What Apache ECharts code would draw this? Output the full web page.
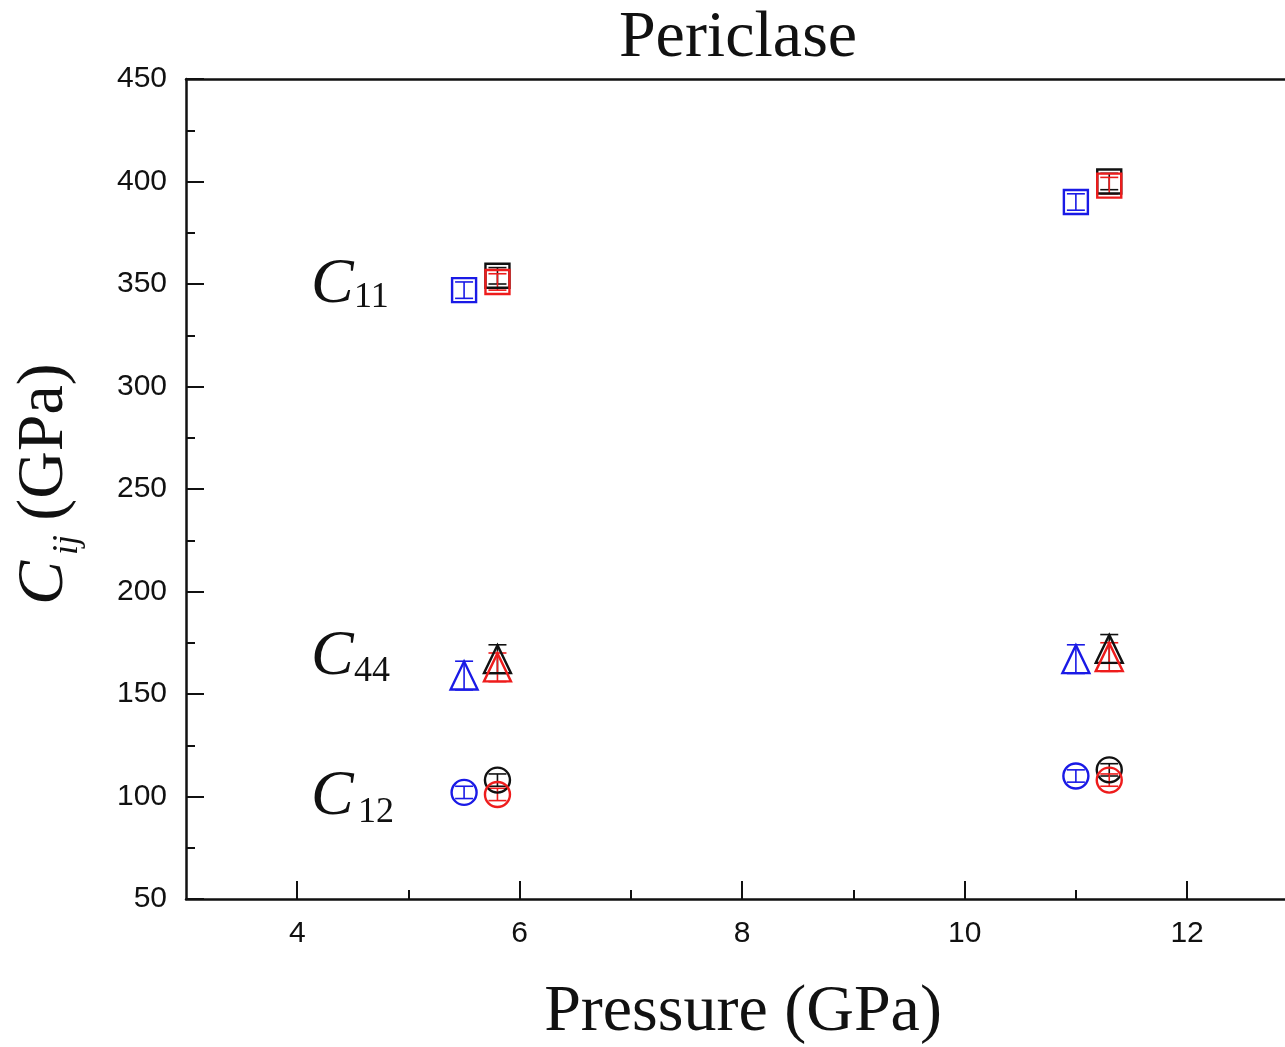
<!DOCTYPE html>
<html>
<head>
<meta charset="utf-8">
<script src="https://cdn.jsdelivr.net/npm/echarts@6/dist/echarts.min.js"></script>
<style>html,body{margin:0;padding:0;background:#fff}#c{width:1285px;height:1047px}</style>
</head>
<body>
<div id="c"></div>
<script>
// ---- data ----
var pressureBlue = [5.5, 11.0];
var pressureBR = [5.8, 11.3];
var c11Blue = [347, 390];
var c11Black = [354, 400];
var c11Red = [351, 398];
var c44Blue = [159, 167];
var c44Black = [167, 172];
var c44Red = [163, 168];
var c12Blue = [102, 110];
var c12Black = [108, 113];
var c12Red = [101, 108];
var c11Err = [4, 4];
var c44Err = [7, 7];
var c12Err = [3, 3];
var xMajorTicks = [4, 6, 8, 10, 12];
var xMinorTicks = [5, 7, 9, 11];

var chart = echarts.init(document.getElementById('c'));

function pts(xs, ys, errs) {
  return xs.map(function (x, i) { return [x, ys[i], errs[i]]; });
}

function errSeries(data, color) {
  return {
    type: 'custom',
    xAxisIndex: 0, yAxisIndex: 0,
    data: data,
    z: 3,
    renderItem: function (params, api) {
      var x = api.value(0), y = api.value(1), e = api.value(2);
      var hi = api.coord([x, y + e]);
      var lo = api.coord([x, y - e]);
      var w = 9;
      var st = { stroke: color, lineWidth: 1.6 };
      return {
        type: 'group',
        children: [
          { type: 'line', shape: { x1: hi[0], y1: hi[1], x2: lo[0], y2: lo[1] }, style: st },
          { type: 'line', shape: { x1: hi[0] - w, y1: hi[1], x2: hi[0] + w, y2: hi[1] }, style: st },
          { type: 'line', shape: { x1: lo[0] - w, y1: lo[1], x2: lo[0] + w, y2: lo[1] }, style: st }
        ]
      };
    }
  };
}

function markSeries(data, color, symbol, size) {
  return {
    type: 'scatter',
    xAxisIndex: 0, yAxisIndex: 0,
    data: data,
    symbol: symbol,
    symbolSize: size,
    z: 4,
    itemStyle: { color: 'rgba(0,0,0,0)', borderColor: color, borderWidth: 2.4, opacity: 1 },
    emphasis: { disabled: true },
    silent: true
  };
}

var groups = [
  { xs: pressureBlue, color: '#1a1ae6', sets: [[c11Blue, c11Err], [c44Blue, c44Err], [c12Blue, c12Err]] },
  { xs: pressureBR, color: '#111111', sets: [[c11Black, c11Err], [c44Black, c44Err], [c12Black, c12Err]] },
  { xs: pressureBR, color: '#ee1c1c', sets: [[c11Red, c11Err], [c44Red, c44Err], [c12Red, c12Err]] }
];
var symbols = [['rect', [24, 24]], ['triangle', [27, 28]], ['circle', [25, 25]]];

var series = [];
groups.forEach(function (g) {
  g.sets.forEach(function (s, k) {
    var d = pts(g.xs, s[0], s[1]);
    series.push(errSeries(d, g.color));
    series.push(markSeries(d, g.color, symbols[k][0], symbols[k][1]));
  });
});

var serif = "'Liberation Serif', 'DejaVu Serif', serif";
var sans = "'Liberation Sans', Arial, sans-serif";
var grid = { left: 186, top: 79, right: 0, height: 820 };
var xMin = 3, xMax = 12.88;

chart.setOption({
  animation: false,
  backgroundColor: '#ffffff',
  title: {
    text: 'Periclase', left: 733, top: 1, textAlign: 'center',
    textStyle: { fontFamily: serif, fontSize: 66, fontWeight: 'normal', color: '#111' }
  },
  grid: grid,
  xAxis: [
    {
      type: 'value', min: xMin, max: xMax, position: 'bottom', offset: 0,
      axisLine: { show: true, lineStyle: { color: '#111', width: 2.5 } },
      axisTick: { show: true, inside: true, length: 18, customValues: xMajorTicks, lineStyle: { color: '#111', width: 2 } },
      axisLabel: { customValues: xMajorTicks, fontFamily: sans, fontSize: 30, color: '#111', margin: 20 },
      splitLine: { show: false }
    },
    {
      type: 'value', min: xMin, max: xMax, position: 'bottom', offset: 0,
      axisLine: { show: false },
      axisTick: { show: true, inside: true, length: 9, customValues: xMinorTicks, lineStyle: { color: '#111', width: 2 } },
      axisLabel: { show: false },
      splitLine: { show: false }
    },
    {
      type: 'value', min: xMin, max: xMax, position: 'top', offset: 0,
      axisLine: { show: true, lineStyle: { color: '#111', width: 2.5 } },
      axisTick: { show: false },
      axisLabel: { show: false },
      splitLine: { show: false }
    }
  ],
  yAxis: [
    {
      type: 'value', min: 50, max: 450, interval: 50,
      axisLine: { show: true, lineStyle: { color: '#111', width: 2.5 } },
      axisTick: { show: true, inside: true, length: 18, lineStyle: { color: '#111', width: 2 } },
      minorTick: { show: true, splitNumber: 2, length: 9, lineStyle: { color: '#111', width: 2 } },
      axisLabel: { fontFamily: sans, fontSize: 30, color: '#111', margin: 19 },
      splitLine: { show: false }
    }
  ],
  series: series,
  graphic: [
    // x axis name
    { type: 'text', x: 743, y: 1013, style: { text: 'Pressure (GPa)', font: '66px ' + serif, fill: '#111', textAlign: 'center', textVerticalAlign: 'middle' } },
    // y axis name (rotated)
    { type: 'text', x: 45, y: 583, rotation: Math.PI / 2, style: { text: 'C', font: 'italic 66px ' + serif, fill: '#111', textAlign: 'center', textVerticalAlign: 'middle' } },
    { type: 'text', x: 68, y: 545, rotation: Math.PI / 2, style: { text: 'ij', font: 'italic 36px ' + serif, fill: '#111', textAlign: 'center', textVerticalAlign: 'middle' } },
    { type: 'text', x: 45, y: 442, rotation: Math.PI / 2, style: { text: '(GPa)', font: '66px ' + serif, fill: '#111', textAlign: 'center', textVerticalAlign: 'middle' } },
    // annotations
    { type: 'text', x: 311, y: 285, style: { text: 'C', font: 'italic 64px ' + serif, fill: '#111', textAlign: 'left', textVerticalAlign: 'middle' } },
    { type: 'text', x: 354, y: 298, style: { text: '11', font: '36px ' + serif, fill: '#111', textAlign: 'left', textVerticalAlign: 'middle' } },
    { type: 'text', x: 311, y: 657, style: { text: 'C', font: 'italic 64px ' + serif, fill: '#111', textAlign: 'left', textVerticalAlign: 'middle' } },
    { type: 'text', x: 354, y: 672, style: { text: '44', font: '36px ' + serif, fill: '#111', textAlign: 'left', textVerticalAlign: 'middle' } },
    { type: 'text', x: 311, y: 797, style: { text: 'C', font: 'italic 64px ' + serif, fill: '#111', textAlign: 'left', textVerticalAlign: 'middle' } },
    { type: 'text', x: 358, y: 813, style: { text: '12', font: '36px ' + serif, fill: '#111', textAlign: 'left', textVerticalAlign: 'middle' } }
  ]
});
</script>
</body>
</html>
